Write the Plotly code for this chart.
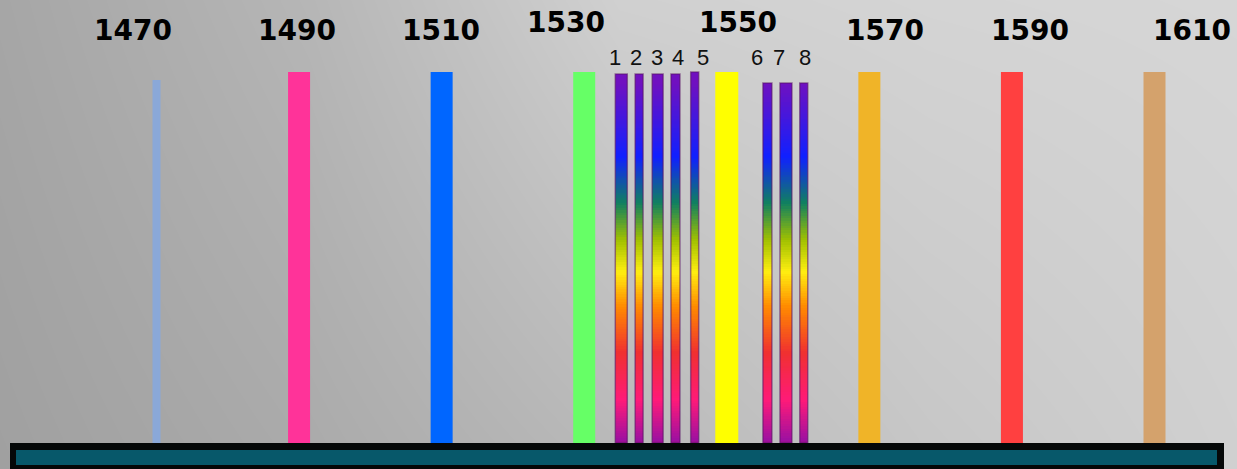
import numpy as np
import plotly.graph_objects as go

# ---------------- data ----------------
cwdm_wavelengths = [1470, 1490, 1510, 1530, 1550, 1570, 1590, 1610]
cwdm_labels = ["1470", "1490", "1510", "1530", "1550", "1570", "1590", "1610"]
cwdm_heights = [363, 371, 371, 371, 371, 371, 371, 371]

dwdm_wavelengths = [1535.2, 1537.7, 1540.3, 1542.8, 1545.5, 1555.7, 1558.3, 1560.8]
dwdm_labels = ["1", "2", "3", "4", "5", "6", "7", "8"]
dwdm_heights = [369, 369, 369, 369, 371, 360, 360, 360]

# ---------------- style ----------------
PX_PER_NM = 998 / 140.0
X_LEFT = 1470 - 156.5 / PX_PER_NM
X_RIGHT = X_LEFT + 1237 / PX_PER_NM
Y_BOTTOM, Y_TOP = -26, 443

cwdm_colors = ["#8aa8d8", "#ff3399", "#0066ff", "#66ff66", "#ffff00",
               "#f0b428", "#ff4040", "#d4a26c"]
cwdm_width_px = [8, 22, 22, 22, 23, 22, 22, 22]
dwdm_width_px = [12, 8, 11, 9, 8, 9, 12, 8]
cwdm_label_shift = [-24, -2, -1, -18, 11, 16, 18, 37]
cwdm_label_y = [413, 413, 413, 421, 421, 413, 413, 413]
dwdm_label_shift = [-6, -3, -1, 3, 8, -10, -7, 1]

rainbow = [
    [0.0, "#9a1090"], [0.01, "#a010a0"], [0.116, "#ff1a78"], [0.243, "#f03030"],
    [0.367, "#ff8a00"], [0.461, "#ffee10"], [0.547, "#a0c000"], [0.647, "#108060"],
    [0.771, "#1020ff"], [0.97, "#7010c0"], [1.0, "#7010c0"],
]

fig = go.Figure()

# brushed-metal style background gradient
bg_x = np.linspace(X_LEFT, X_RIGHT, 5)
bg_y = [Y_BOTTOM, Y_TOP]
bg_z = [[160, 170, 184, 198, 208],
        [166, 182, 208, 212, 214]]
fig.add_trace(go.Heatmap(x=bg_x, y=bg_y, z=bg_z, zmin=0, zmax=255,
                         colorscale=[[0, "rgb(0,0,0)"], [1, "rgb(255,255,255)"]],
                         zsmooth="best", showscale=False, hoverinfo="skip"))

# CWDM solid bars
fig.add_trace(go.Bar(x=cwdm_wavelengths, y=cwdm_heights,
                     width=[w / PX_PER_NM for w in cwdm_width_px],
                     marker=dict(color=cwdm_colors, line=dict(width=0)),
                     hoverinfo="skip", showlegend=False))

# DWDM rainbow gradient bars
for wl, h, wpx in zip(dwdm_wavelengths, dwdm_heights, dwdm_width_px):
    w = wpx / PX_PER_NM
    edges = np.linspace(0, h, 150)
    mids = (edges[:-1] + edges[1:]) / 2
    fig.add_trace(go.Heatmap(x=[wl - w / 2, wl + w / 2], y=edges,
                             z=[[m] for m in mids], zmin=0, zmax=371,
                             colorscale=rainbow, showscale=False,
                             hoverinfo="skip"))

# dark edges on the DWDM bars
fig.add_trace(go.Bar(x=dwdm_wavelengths, y=dwdm_heights,
                     width=[w / PX_PER_NM for w in dwdm_width_px],
                     marker=dict(color="rgba(0,0,0,0)",
                                 line=dict(color="rgba(90,20,100,0.55)", width=1.5)),
                     hoverinfo="skip", showlegend=False))

# bottom base strip (fiber)
shapes = [
    dict(type="rect", xref="paper", yref="y", x0=10 / 1237, x1=1224 / 1237,
         y0=-26, y1=0, fillcolor="#050808", line=dict(width=0), layer="above"),
    dict(type="rect", xref="paper", yref="y", x0=16 / 1237, x1=1217 / 1237,
         y0=-22, y1=-7, fillcolor="#07586a", line=dict(width=0), layer="above"),
]

annotations = []
for wl, lab, dx, yy in zip(cwdm_wavelengths, cwdm_labels, cwdm_label_shift, cwdm_label_y):
    annotations.append(dict(x=wl, y=yy, text=lab, showarrow=False, xshift=dx,
                            xanchor="center", yanchor="middle",
                            font=dict(family="DejaVu Sans", size=28, color="#000000",
                                      weight="bold")))
for wl, lab, dx in zip(dwdm_wavelengths, dwdm_labels, dwdm_label_shift):
    annotations.append(dict(x=wl, y=386, text=lab, showarrow=False, xshift=dx,
                            xanchor="center", yanchor="middle",
                            font=dict(family="Liberation Sans", size=22, color="#111111")))

fig.update_layout(
    width=1237, height=469,
    margin=dict(l=0, r=0, t=0, b=0),
    paper_bgcolor="#b8b8b8", plot_bgcolor="#b8b8b8",
    barmode="overlay", showlegend=False,
    xaxis=dict(range=[X_LEFT, X_RIGHT], visible=False, fixedrange=True),
    yaxis=dict(range=[Y_BOTTOM, Y_TOP], visible=False, fixedrange=True),
    shapes=shapes, annotations=annotations,
)

fig.write_html("out.html", config={"displayModeBar": False},
               post_script="document.body.style.margin='0';document.body.style.overflow='hidden';")
